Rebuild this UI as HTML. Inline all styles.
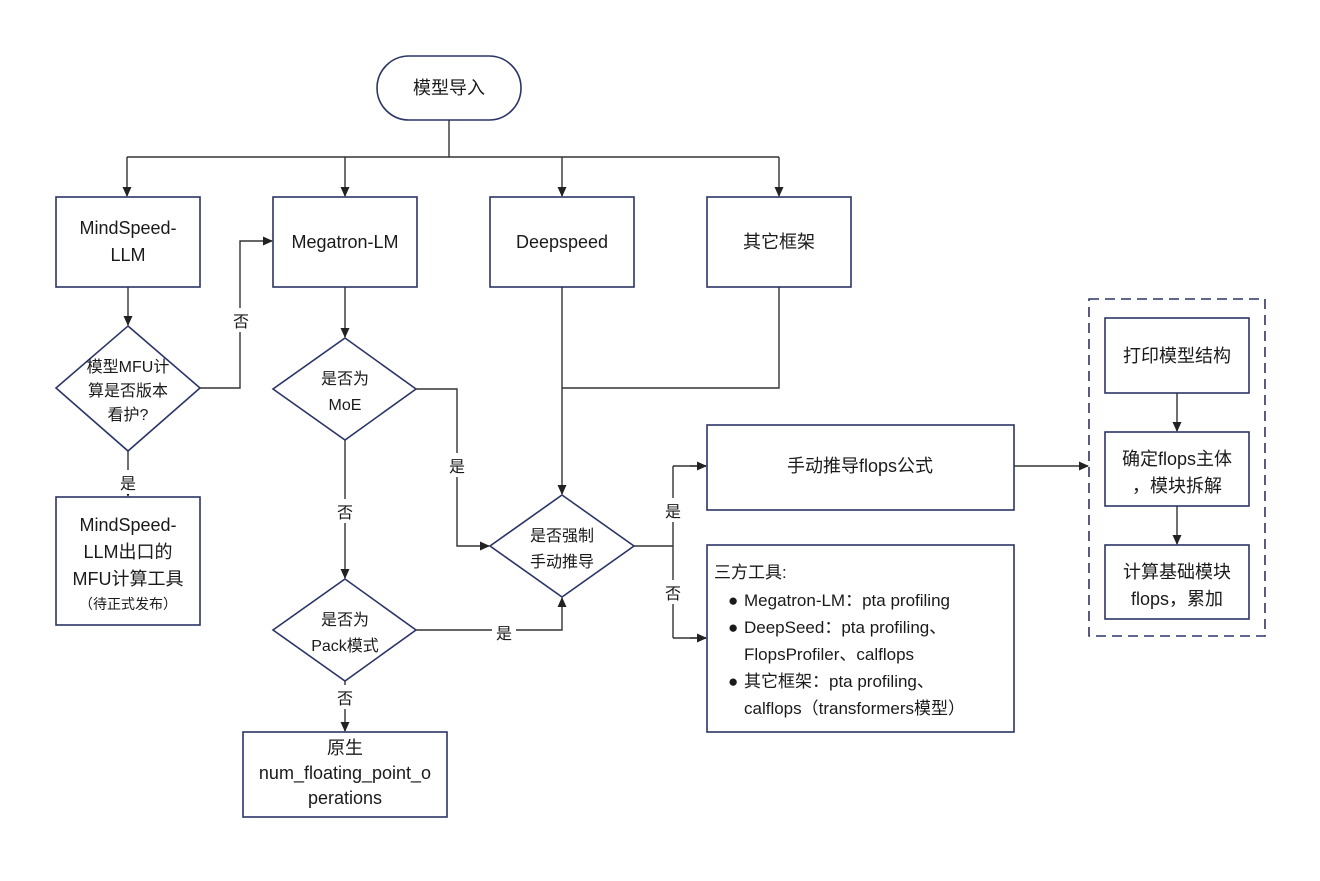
<!DOCTYPE html>
<html><head><meta charset="utf-8"><style>
html,body{margin:0;padding:0;background:#fff}
svg text{font-family:"Liberation Sans","Noto Sans CJK SC",sans-serif;fill:#1a1a1a}
</style></head><body>
<svg width="1320" height="876" viewBox="0 0 1320 876" xmlns="http://www.w3.org/2000/svg">
<defs><marker id="a" markerWidth="10" markerHeight="10" refX="9" refY="5" orient="auto" markerUnits="userSpaceOnUse"><path d="M0,0.5 L10,5 L0,9.5 z" fill="#222"/></marker></defs>
<g fill="#fff" stroke="#2b3566" stroke-width="1.6">
<rect x="377" y="56" width="144" height="64" rx="32"/>
<rect x="56" y="197" width="144" height="90"/>
<rect x="273" y="197" width="144" height="90"/>
<rect x="490" y="197" width="144" height="90"/>
<rect x="707" y="197" width="144" height="90"/>
<polygon points="128,326 200,388 128,451 56,388"/>
<rect x="56" y="497" width="144" height="128"/>
<polygon points="345,338 416,389 345,440 273,389"/>
<polygon points="345,579 416,630 345,681 273,630"/>
<rect x="243" y="732" width="204" height="85"/>
<polygon points="562,495 634,546 562,597 490,546"/>
<rect x="707" y="425" width="307" height="85"/>
<rect x="707" y="545" width="307" height="187"/>
<rect x="1089" y="299" width="176" height="337" stroke-dasharray="10,6"/>
<rect x="1105" y="318" width="144" height="75"/>
<rect x="1105" y="432" width="144" height="74"/>
<rect x="1105" y="545" width="144" height="74"/>
</g>
<g fill="none" stroke="#333" stroke-width="1.4">
<path d="M449,120 V157 M127,157 H779"/>
<path d="M127,157 V196" marker-end="url(#a)"/>
<path d="M345,157 V196" marker-end="url(#a)"/>
<path d="M562,157 V196" marker-end="url(#a)"/>
<path d="M779,157 V196" marker-end="url(#a)"/>
<path d="M128,287 V325" marker-end="url(#a)"/>
<path d="M200,388 H240 V241 H272" marker-end="url(#a)"/>
<path d="M128,451 V496" marker-end="url(#a)"/>
<path d="M345,287 V337" marker-end="url(#a)"/>
<path d="M416,389 H457 V546 H489" marker-end="url(#a)"/>
<path d="M562,287 V494" marker-end="url(#a)"/>
<path d="M779,287 V388 H562"/>
<path d="M345,440 V578" marker-end="url(#a)"/>
<path d="M416,630 H562 V598" marker-end="url(#a)"/>
<path d="M345,681 V731" marker-end="url(#a)"/>
<path d="M634,546 H673 M673,466 V638 M673,466 H706 M673,638 H706"/>
<path d="M690,466 H706" marker-end="url(#a)"/>
<path d="M690,638 H706" marker-end="url(#a)"/>
<path d="M1014,466 H1088" marker-end="url(#a)"/>
<path d="M1177,393 V431" marker-end="url(#a)"/>
<path d="M1177,506 V544" marker-end="url(#a)"/>
</g>
<g fill="#fff" stroke="none">
<rect x="230" y="308" width="22" height="24"/><rect x="116" y="470" width="24" height="24"/>
<rect x="446" y="453" width="22" height="24"/><rect x="333" y="499" width="24" height="24"/>
<rect x="492" y="620" width="24" height="24"/><rect x="333" y="685" width="24" height="24"/>
<rect x="662" y="498" width="22" height="24"/><rect x="662" y="580" width="22" height="24"/>
</g>
<g font-size="18" text-anchor="middle">
<text x="449" y="94">模型导入</text>
<text x="128" y="234">MindSpeed-</text><text x="128" y="261">LLM</text>
<text x="345" y="248">Megatron-LM</text>
<text x="562" y="248">Deepspeed</text>
<text x="779" y="248">其它框架</text>
<text x="128" y="531">MindSpeed-</text><text x="128" y="558">LLM出口的</text><text x="128" y="585">MFU计算工具</text>
<text x="128" y="609" font-size="14">（待正式发布）</text>
<text x="345" y="754">原生</text><text x="345" y="779">num_floating_point_o</text><text x="345" y="804">perations</text>
<text x="860" y="472">手动推导flops公式</text>
<text x="1177" y="362">打印模型结构</text>
<text x="1177" y="465">确定flops主体</text><text x="1177" y="492">，模块拆解</text>
<text x="1177" y="578">计算基础模块</text><text x="1177" y="605">flops，累加</text>
</g>
<g font-size="16" text-anchor="middle">
<text x="128" y="372">模型MFU计</text><text x="128" y="396">算是否版本</text><text x="128" y="420">看护?</text>
<text x="345" y="384">是否为</text><text x="345" y="410">MoE</text>
<text x="345" y="625">是否为</text><text x="345" y="651">Pack模式</text>
<text x="562" y="541">是否强制</text><text x="562" y="567">手动推导</text>
<text x="241" y="327">否</text><text x="128" y="489">是</text>
<text x="457" y="472">是</text><text x="345" y="518">否</text>
<text x="504" y="639">是</text><text x="345" y="704">否</text>
<text x="673" y="517">是</text><text x="673" y="599">否</text>
</g>
<g font-size="17">
<text x="714" y="578">三方工具:</text>
<text x="728" y="606">●</text><text x="744" y="606">Megatron-LM：pta profiling</text>
<text x="728" y="633">●</text><text x="744" y="633">DeepSeed：pta profiling、</text>
<text x="744" y="660">FlopsProfiler、calflops</text>
<text x="728" y="687">●</text><text x="744" y="687">其它框架：pta profiling、</text>
<text x="744" y="714">calflops（transformers模型）</text>
</g>
</svg>
</body></html>
